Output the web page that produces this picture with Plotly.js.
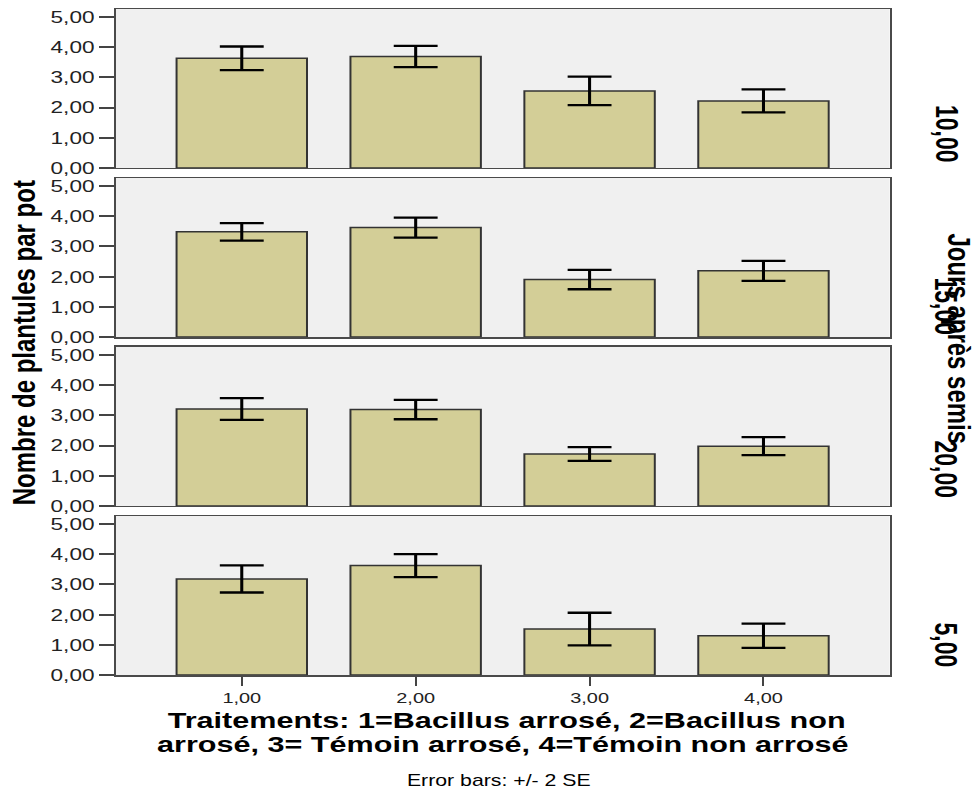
<!DOCTYPE html>
<html>
<head>
<meta charset="utf-8">
<script src="https://cdn.plot.ly/plotly-3.0.1.min.js"></script>
<style>
  html, body { margin: 0; padding: 0; background: #fff; overflow: hidden; }
  #chart { width: 737px; height: 791px; transform: scaleX(1.3297); transform-origin: 0 0; }
</style>
</head>
<body>
<div id="chart"></div>
<script>
// Treatments (x categories)
const treatments = [1, 2, 3, 4];
// Facet (days after sowing) labels, top to bottom as in the chart
const panelLabels = ['10,00', '15,00', '20,00', '5,00'];
// Means of seedlings per pot
const means_10 = [3.63, 3.69, 2.55, 2.22];
const means_15 = [3.48, 3.62, 1.90, 2.19];
const means_20 = [3.21, 3.19, 1.72, 1.98];
const means_5  = [3.18, 3.62, 1.52, 1.30];
// Error bars: +/- 2 SE
const err_10 = [0.39, 0.35, 0.47, 0.38];
const err_15 = [0.29, 0.33, 0.32, 0.33];
const err_20 = [0.36, 0.32, 0.23, 0.30];
const err_5  = [0.45, 0.38, 0.54, 0.40];
// Axis ticks
const yTicks = [0, 1, 2, 3, 4, 5];

const panelMeans = [means_10, means_15, means_20, means_5];
const panelErrs = [err_10, err_15, err_20, err_5];

const domains = [[0.7613, 1.0], [0.5075, 0.7462], [0.2538, 0.4925], [0.0, 0.2387]];
const labelY = [0.8116, 0.5526, 0.3078, 0.0450];

const FONT = 'Liberation Sans, Arial, sans-serif';
const traces = [];
const layout = {
  width: 737, height: 791,
  margin: {l: 87, r: 68, t: 9, b: 116, pad: 0},
  paper_bgcolor: '#ffffff',
  plot_bgcolor: '#f0f0f0',
  separators: ',.',
  showlegend: false,
  font: {family: FONT, color: '#222'},
  annotations: []
};

panelMeans.forEach((m, i) => {
  const n = i + 1;
  const xa = n === 1 ? 'x' : 'x' + n;
  const ya = n === 1 ? 'y' : 'y' + n;
  traces.push({
    type: 'bar',
    x: treatments,
    y: m,
    xaxis: xa, yaxis: ya,
    width: 0.75,
    marker: {color: '#d3ce97', line: {color: '#333333', width: 1.5}},
    error_y: {type: 'data', array: panelErrs[i], visible: true, color: '#000', thickness: 2.3, width: 16.5},
    hoverinfo: 'skip'
  });
  const isBottom = i === 3;
  layout[n === 1 ? 'xaxis' : 'xaxis' + n] = {
    domain: [0, 1],
    anchor: ya,
    range: [0.275, 4.725],
    tickvals: treatments,
    tickformat: '.2f',
    showticklabels: isBottom,
    ticks: isBottom ? 'outside' : '',
    ticklen: 9, tickwidth: 1.5, tickcolor: '#444',
    tickfont: {size: 15, family: FONT, color: '#222'},
    showgrid: false, zeroline: false,
    showline: true, mirror: true, linecolor: '#4a4a4a', linewidth: 1.5,
    fixedrange: true
  };
  layout[n === 1 ? 'yaxis' : 'yaxis' + n] = {
    domain: domains[i],
    anchor: xa,
    range: [0, 5.26],
    tickvals: yTicks,
    tickformat: '.2f',
    ticks: 'outside', ticklen: 11, tickwidth: 2, tickcolor: '#444',
    tickfont: {size: 17, family: FONT, color: '#222'},
    showgrid: false, zeroline: false,
    showline: true, mirror: true, linecolor: '#4a4a4a', linewidth: 1.5,
    fixedrange: true
  };
  layout.annotations.push({
    xref: 'paper', yref: 'paper', x: 1.073, y: labelY[i],
    xanchor: 'center', yanchor: 'middle',
    text: '<b>' + panelLabels[i] + '</b>', textangle: 90, showarrow: false,
    font: {size: 23, family: FONT, color: '#000'}
  });
});

layout.annotations.push(
  {xref: 'paper', yref: 'paper', x: 1.0904, y: 0.5045, xanchor: 'center', yanchor: 'middle',
   text: '<b>Jours après semis</b>', textangle: 90, showarrow: false,
   font: {size: 24, family: FONT, color: '#000'}},
  {xref: 'paper', yref: 'paper', x: -0.1188, y: 0.4992, xanchor: 'center', yanchor: 'middle',
   text: '<b>Nombre de plantules par pot</b>', textangle: -90, showarrow: false,
   font: {size: 24, family: FONT, color: '#000'}},
  {xref: 'paper', yref: 'paper', x: 0.505, y: -0.0676, xanchor: 'center', yanchor: 'middle',
   text: '<b>Traitements: 1=Bacillus arrosé, 2=Bacillus non</b>', showarrow: false,
   font: {size: 23, family: FONT, color: '#000'}},
  {xref: 'paper', yref: 'paper', x: 0.5, y: -0.1036, xanchor: 'center', yanchor: 'middle',
   text: '<b>arrosé, 3= Témoin arrosé, 4=Témoin non arrosé</b>', showarrow: false,
   font: {size: 23, family: FONT, color: '#000'}},
  {xref: 'paper', yref: 'paper', x: 0.494, y: -0.159, xanchor: 'center', yanchor: 'middle',
   text: 'Error bars: +/- 2 SE', showarrow: false,
   font: {size: 16, family: FONT, color: '#000'}}
);

Plotly.newPlot('chart', traces, layout, {displayModeBar: false, staticPlot: true});
</script>
</body>
</html>
